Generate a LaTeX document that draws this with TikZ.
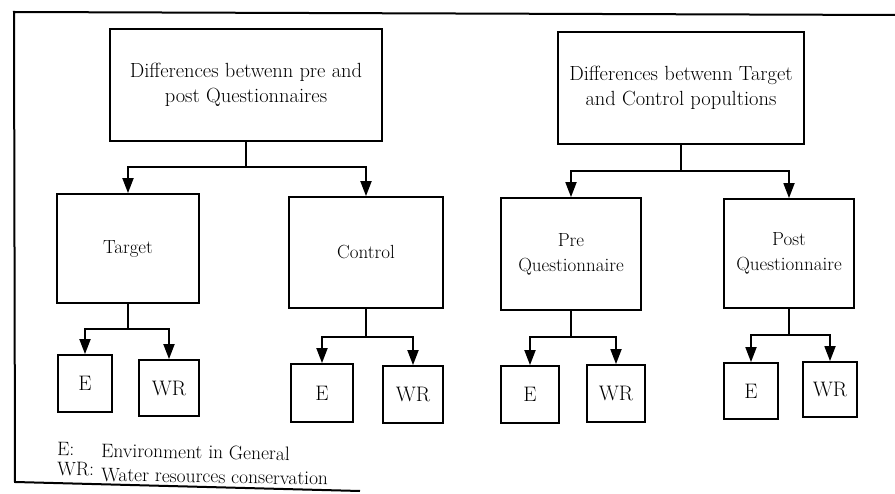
\documentclass[tikz,border=0pt]{standalone}
\usetikzlibrary{arrows.meta}
\begin{document}
\begin{tikzpicture}[x=1pt,y=-1pt,
  box/.style={draw,line width=1.8pt,inner sep=0pt,align=center,font=\fontsize{19}{25}\selectfont},
  big/.style={font=\fontsize{20.5}{25}\selectfont},
  small/.style={font=\fontsize{21}{25}\selectfont},
  lbl/.style={inner sep=0pt,anchor=base west,font=\fontsize{19.5}{22}\selectfont},
  link/.style={line width=1.8pt},
  arr/.style={line width=1.8pt,-{Triangle[length=15pt,width=11pt]}}]
\useasboundingbox (0,0) rectangle (895,494);
% frame
\coordinate (f1) at (14,12);
\coordinate (f2) at (895,15);
\coordinate (f3) at (15,482);
\coordinate (f4) at (360,491);
\draw[line width=2pt] (f2) -- (f1) -- (f3) -- (f4);
% boxes
\node[box,big,minimum width=272pt,minimum height=112pt] (top1) at (246,85) {Differences betwenn pre and\\post Questionnaires};
\node[box,big,minimum width=246pt,minimum height=112pt] (top2) at (681,88) {Differences betwenn Target\\and Control popultions};
\node[box,minimum width=142pt,minimum height=109pt] (target) at (128,248.5) {Target};
\node[box,minimum width=154pt,minimum height=111pt] (control) at (366,252.5) {Control};
\node[box,minimum width=140pt,minimum height=112pt] (pre) at (571,254) {Pre\\Questionnaire};
\node[box,minimum width=130pt,minimum height=109pt] (post) at (789,253.5) {Post\\Questionnaire};
\node[box,small,minimum width=54pt,minimum height=57pt] (tE) at (85,383.5) {E};
\node[box,small,minimum width=60pt,minimum height=56pt] (tWR) at (169,388) {WR};
\node[box,small,minimum width=62pt,minimum height=58pt] (cE) at (322,393) {E};
\node[box,small,minimum width=60pt,minimum height=57pt] (cWR) at (413,394.5) {WR};
\node[box,small,minimum width=58pt,minimum height=57pt] (pE) at (530,394.5) {E};
\node[box,small,minimum width=58pt,minimum height=57pt] (pWR) at (616,393.5) {WR};
\node[box,small,minimum width=54pt,minimum height=56pt] (qE) at (751,391) {E};
\node[box,small,minimum width=54pt,minimum height=55pt] (qWR) at (830,389.5) {WR};
% junctions
\coordinate (j1) at (246,167);
\coordinate (j2) at (681,171);
\coordinate (j3) at (128,329);
\coordinate (j4) at (366,337);
\coordinate (j5) at (571,337);
\coordinate (j6) at (789,335);
\draw[link] (top1.south) -- (j1);
\draw[arr] (j1) -| (target.north);
\draw[arr] (j1) -| (control.north);
\draw[link] (top2.south) -- (j2);
\draw[arr] (j2) -| (pre.north);
\draw[arr] (j2) -| (post.north);
\draw[link] (target.south) -- (j3);
\draw[arr] (j3) -| (tE.north);
\draw[arr] (j3) -| (tWR.north);
\draw[link] (control.south) -- (j4);
\draw[arr] (j4) -| (cE.north);
\draw[arr] (j4) -| (cWR.north);
\draw[link] (pre.south) -- (j5);
\draw[arr] (j5) -| (pE.north);
\draw[arr] (j5) -| (pWR.north);
\draw[link] (post.south) -- (j6);
\draw[arr] (j6) -| (qE.north);
\draw[arr] (j6) -| (qWR.north);
% legend
\node[lbl,rotate=-1] (le) at (57,455) {E:};
\node[lbl,rotate=-1] (lenv) at (101,457) {Environment in General};
\node[lbl,rotate=-1] (lwr) at (57,475) {WR:};
\node[lbl,rotate=-1] (lwater) at (101,481) {Water resources conservation};
\end{tikzpicture}
\end{document}
